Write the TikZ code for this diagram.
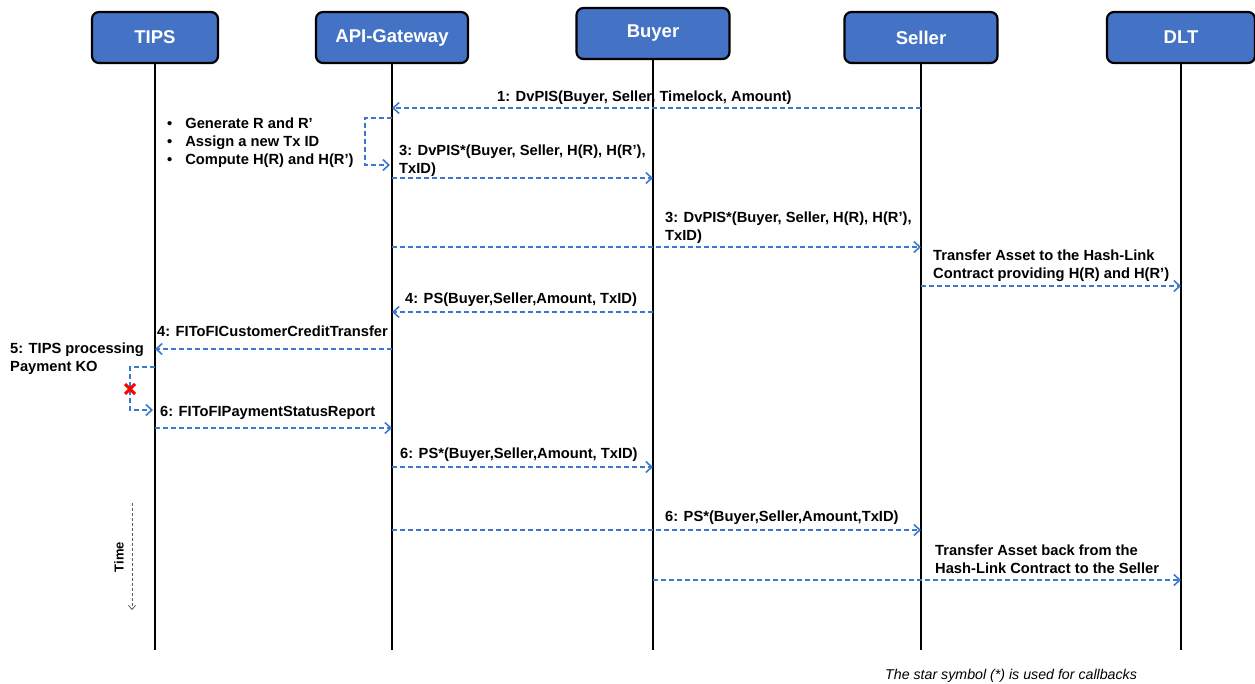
\documentclass[tikz,border=0pt]{standalone}
\usepackage{fontspec}
\setmainfont{Liberation Sans}
\usetikzlibrary{positioning,arrows.meta}
\definecolor{boxblue}{RGB}{68,114,196}
\definecolor{msgblue}{RGB}{58,122,206}
\tikzset {
    actor/.style={
        fill=boxblue,
        draw=black,
        line width=2.2pt,
        rectangle, % Set the shape as a rectangle
        rounded corners=7pt,
        minimum height=51pt,
        text=white,
        font=\fontsize{18.5}{22}\selectfont\bfseries,
    },
    lifeline/.style={
        draw=black,
        line width=1.4pt,
    },
    msg/.style={
        draw=msgblue,
        line width=1.4pt,
        dash pattern=on 5pt off 3pt,
        -{Straight Barb[length=6pt,width=11pt,line width=1.6pt]},
    },
    msg label/.style={
        font=\fontsize{14.7}{18}\selectfont\bfseries,
        align=left,
        inner sep=0pt,
        anchor=west,
    },
}

\begin{document}
\begin{tikzpicture}[x=1pt,y=-1pt]
        \useasboundingbox (0,0) rectangle (1255,684);

        % participants
        \node[actor, minimum width=126pt] (tips) at (155,37.5) {TIPS};
        \node[actor, minimum width=152pt] (api) at (392,37.5) {API-Gateway};
        \node[actor, minimum width=153pt] (buyer) at (653,33.5) {Buyer};
        \node[actor, minimum width=153pt] (seller) at (921,37.5) {Seller};
        \node[actor, minimum width=148pt] (dlt) at (1181,37.5) {DLT};

        \coordinate (bottom) at (0,650);
        \foreach \p in {tips,api,buyer,seller,dlt}
            \draw[lifeline] (\p.south) -- (\p |- bottom);

        % message rows
        \coordinate (r1) at (0,108);
        \coordinate (loopA) at (365,118);
        \coordinate (loopB) at (365,165);
        \coordinate (r3) at (0,178);
        \coordinate (r4) at (0,247);
        \coordinate (r5) at (0,286);
        \coordinate (r6) at (0,312);
        \coordinate (r7) at (0,349);
        \coordinate (loopC) at (130,367);
        \coordinate (loopD) at (130,410);
        \coordinate (xmark) at (130,389);
        \coordinate (r9) at (0,428);
        \coordinate (r10) at (0,467);
        \coordinate (r11) at (0,530);
        \coordinate (r12) at (0,580);

        \draw[msg] (seller |- r1) -- (api |- r1);
        \node[msg label] (l1) at (497,97.5) {1: DvPIS(Buyer, Seller, Timelock, Amount)};

        \draw[msg, shorten >=2pt] (api |- loopA) -- (loopA) -- (loopB) -- (api |- loopB);
        \node[msg label] (gen) at (167,142.5) {\textbullet\hspace{13pt}Generate R and R’\\
            \textbullet\hspace{13pt}Assign  a new Tx ID\\
            \textbullet\hspace{13pt}Compute H(R) and H(R’)};

        \draw[msg] (api |- r3) -- (buyer |- r3);
        \node[msg label] (l3) at (399,160.5) {3: DvPIS*(Buyer, Seller, H(R), H(R’),\\TxID)};

        \draw[msg] (api |- r4) -- (seller |- r4);
        \node[msg label] (l4) at (665,227.5) {3: DvPIS*(Buyer, Seller, H(R), H(R’),\\TxID)};

        \draw[msg] (seller |- r5) -- (dlt |- r5);
        \node[msg label] (l5) at (933,265.5) {Transfer Asset to the Hash-Link\\Contract providing H(R) and H(R’)};

        \draw[msg] (buyer |- r6) -- (api |- r6);
        \node[msg label] (l6) at (405,299.5) {4: PS(Buyer,Seller,Amount, TxID)};

        \draw[msg] (api |- r7) -- (tips |- r7);
        \node[msg label] (l7) at (157,331.5) {4: FIToFICustomerCreditTransfer};

        \draw[msg, shorten >=2pt] (tips |- loopC) -- (loopC) -- (loopD) -- (tips |- loopD);
        \node[msg label] (l8) at (10,358.5) {5: TIPS processing\\Payment KO};
        \draw[red, line width=3pt] (xmark) +(-5,-5) -- +(5,5) +(-5,5) -- +(5,-5);

        \draw[msg] (tips |- r9) -- (api |- r9);
        \node[msg label] (l9) at (160,412.5) {6: FIToFIPaymentStatusReport};

        \draw[msg] (api |- r10) -- (buyer |- r10);
        \node[msg label] (l10) at (400,454.5) {6: PS*(Buyer,Seller,Amount, TxID)};

        \draw[msg] (api |- r11) -- (seller |- r11);
        \node[msg label] (l11) at (665,517.5) {6: PS*(Buyer,Seller,Amount,TxID)};

        \draw[msg] (buyer |- r12) -- (dlt |- r12);
        \node[msg label] (l12) at (935,559.5) {Transfer Asset back from the\\Hash-Link Contract to the Seller};

        % time axis
        \coordinate (tTop) at (132,503);
        \coordinate (tBot) at (132,610);
        \draw[gray!70!black, line width=0.8pt, dash pattern=on 3pt off 2pt, -{Straight Barb[length=4pt,width=7pt]}] (tTop) -- (tBot);
        \node[rotate=90, font=\fontsize{13}{15}\selectfont\bfseries] (time) at (119,557) {Time};

        \node[anchor=west, inner sep=0pt, font=\fontsize{14.2}{16}\selectfont\itshape] (note) at (885,676) {The star symbol (*) is used for callbacks};
    \end{tikzpicture}
\end{document}
